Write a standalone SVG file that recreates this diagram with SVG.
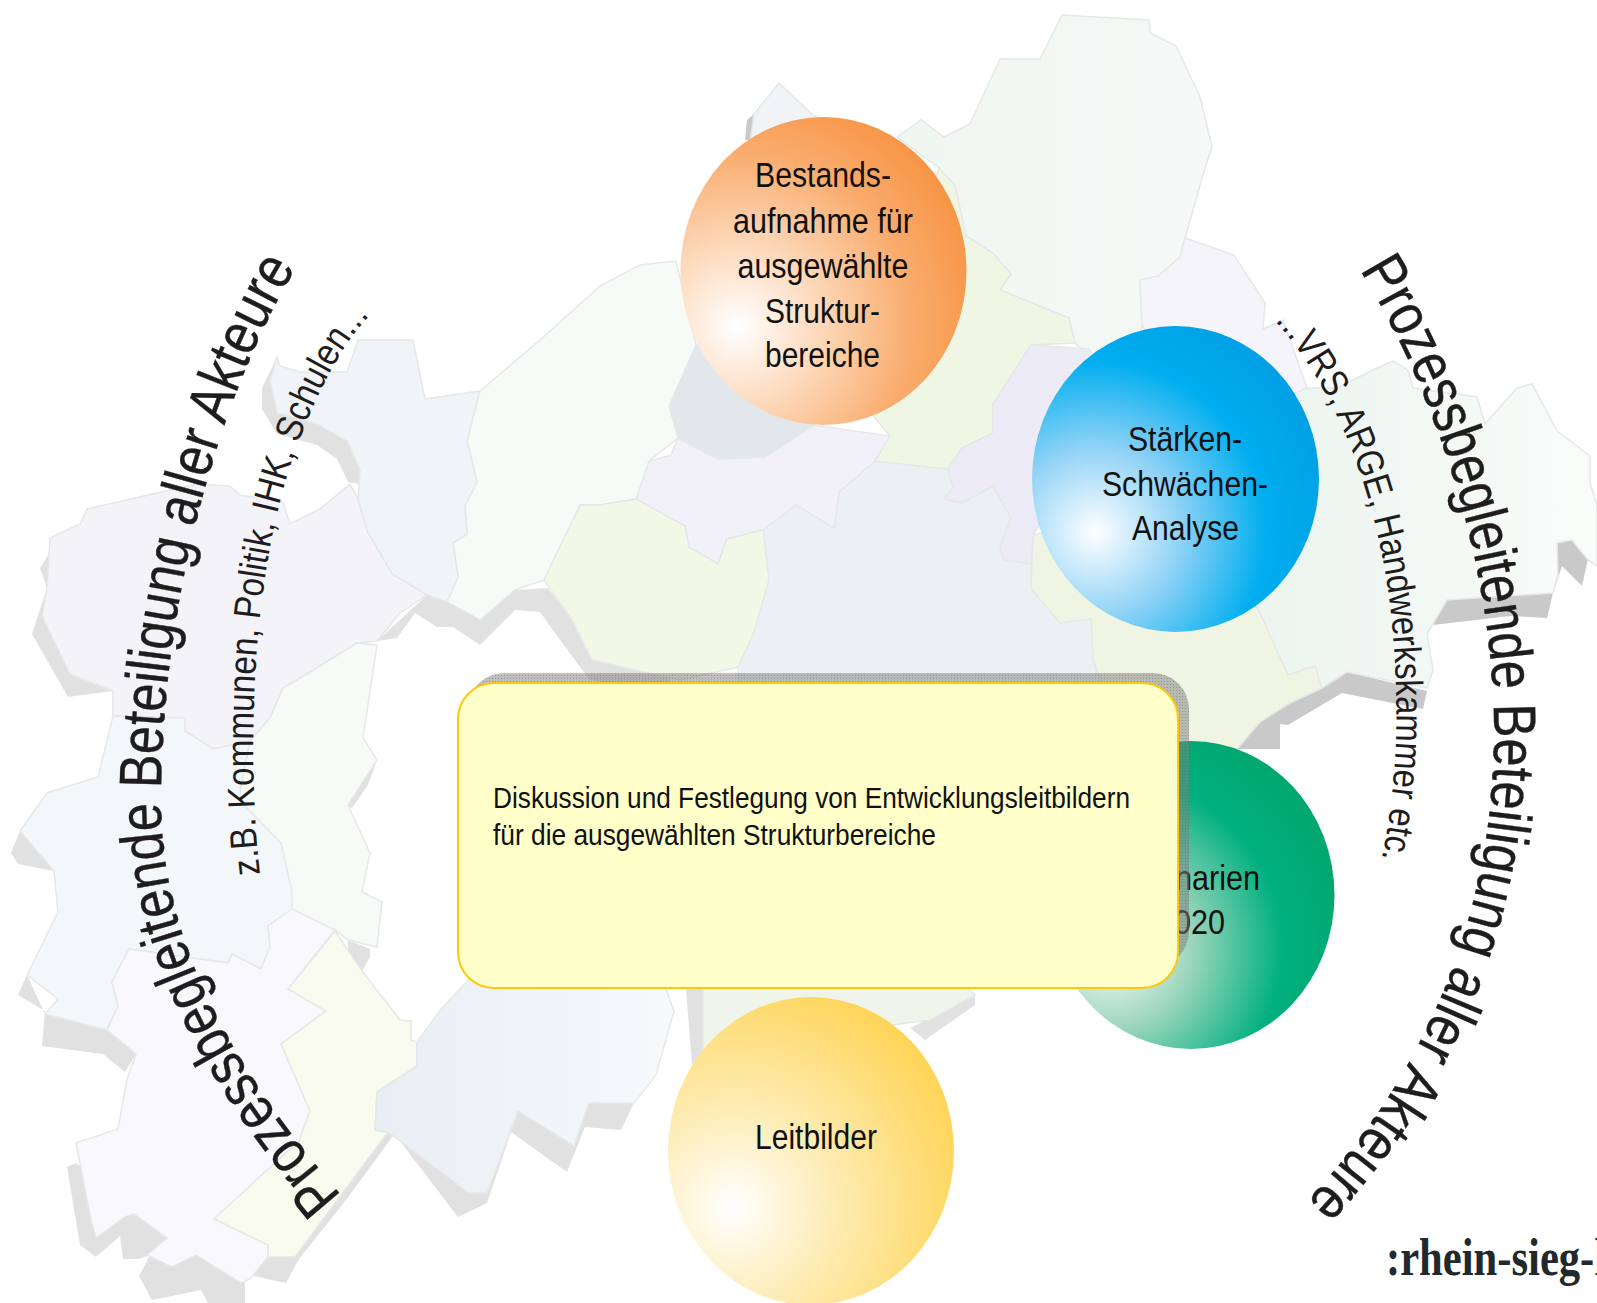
<svg xmlns="http://www.w3.org/2000/svg" width="1597" height="1303" viewBox="0 0 1597 1303">
<style>
.t{font-family:"Liberation Sans",Arial,sans-serif;fill:#111}
.c{font-size:35px}
.b{font-size:29px}
.o{font-size:60px;fill:#1e1c1c;stroke:#1e1c1c;stroke-width:.4}
.i{font-size:38px;fill:#1e1c1c}
.s{fill:#e1e1e1}
.d{fill:#c9c9c9}
.r{stroke:#e6e8e8;stroke-width:1.5}
</style>
<defs>
<radialGradient id="go" gradientUnits="userSpaceOnUse" cx="738" cy="326" r="270"><stop offset="0" stop-color="#fff"/><stop offset=".3" stop-color="#fdd9bb"/><stop offset=".65" stop-color="#f9ab6c"/><stop offset="1" stop-color="#f78e3a"/></radialGradient>
<radialGradient id="gb" gradientUnits="userSpaceOnUse" cx="1095" cy="532" r="285"><stop offset="0" stop-color="#fff"/><stop offset=".3" stop-color="#8fd2f6"/><stop offset=".6" stop-color="#00aeef"/><stop offset="1" stop-color="#0098dd"/></radialGradient>
<radialGradient id="gg" gradientUnits="userSpaceOnUse" cx="1111" cy="948" r="285"><stop offset="0" stop-color="#fff"/><stop offset=".28" stop-color="#9dd6bd"/><stop offset=".6" stop-color="#00b07f"/><stop offset="1" stop-color="#00a262"/></radialGradient>
<radialGradient id="gy" gradientUnits="userSpaceOnUse" cx="733" cy="1207" r="265"><stop offset="0" stop-color="#fff"/><stop offset=".4" stop-color="#fdebb0"/><stop offset="1" stop-color="#ffd048"/></radialGradient>
<linearGradient id="ge" x1="0" y1="0" x2="1" y2="0"><stop offset="0" stop-color="#e9f3ee"/><stop offset="1" stop-color="#fafcfa"/></linearGradient>
<linearGradient id="gs" x1="0" y1="0" x2="1" y2="0"><stop offset="0" stop-color="#e9eef4"/><stop offset="1" stop-color="#f7f9fb"/></linearGradient>
<linearGradient id="gn" x1="0" y1="0" x2="1" y2="0"><stop offset="0" stop-color="#f0f6f2"/><stop offset="1" stop-color="#f6f9f7"/></linearGradient>
<pattern id="hatch" width="3" height="3" patternUnits="userSpaceOnUse"><rect width="3" height="3" fill="#808080" fill-opacity=".5"/><rect width="1" height="1" fill="#5e5e5e" fill-opacity=".4"/></pattern>
<path id="pLO" d="M342 1196C230 1066 161 940 161 800C161 610 216 400 296 268"/>
<path id="pRO" d="M1360 270C1440 400 1494 570 1494 733C1494 920 1420 1080 1309 1199"/>
<path id="pLI" d="M260 874C248 770 248 590 293 458C313 400 340 345 373 312"/>
<path id="pRI" d="M1275 321C1332 385 1372 480 1388 590C1400 680 1400 770 1382 858"/>
</defs>
<rect width="1597" height="1303" fill="#fff"/>
<g id="map">
<g id="map-shadows">
<polygon class="d" points="1557,543 1572,540 1588,559 1582,586 1562,566 1553,593 1547,618 1510,616 1433,625 1427,636 1447,600"/>
<polygon class="d" points="1347,672 1427,691 1423,709 1342,693 1288,725 1280,724 1280,749 1237,749 1260,722 1287,704 1322,688"/>
<polygon class="s" points="277,357 262,388 262,409 277,434 317,445 337,459 348,482 360,484 360,470 347,441 317,424 277,413 270,381"/>
<polygon class="s" points="50,552 40,568 47,588 32,634 68,697 113,691 70,674 42,616 47,588"/>
<polygon class="s" points="427,595 377,641 397,638 415,613 437,627 453,627 480,645 515,610 540,612 560,640 590,680 672,692 670,675 592,660 572,620 548,588 515,590 480,620 447,602"/>
<polygon class="s" points="377,760 368,785 352,808 346,805 360,770"/>
<polygon class="s" points="348,940 370,949 370,957 362,971 348,964"/>
<polygon class="s" points="20,831 11,853 18,864 54,871 45,850"/>
<polygon class="s" points="27,975 18,995 45,1011 42,1046 103,1054 125,1072 136,1054 118,1040 107,1030 45,1014"/>
<polygon class="s" points="76,1163 67,1167 80,1245 96,1257 120,1236 123,1259 138,1259 150,1255 139,1276 152,1300 201,1290 208,1303 245,1303 245,1279 254,1276 286,1283 299,1259 346,1200 393,1136 388,1132 295,1257 200,1250"/>
<polygon class="s" points="393,1132 458,1217 487,1203 511,1132 567,1172 585,1127 621,1130 634,1103 656,1075 634,1077 600,1090 520,1100 470,1190 400,1130"/>
<polygon class="s" points="686,988 703,988 703,1060 692,1065"/>
<polygon class="s" points="910,1028 975,996 975,1005 925,1040"/>
<polygon class="d" points="747,120 756,112 752,140 745,140"/>
</g>
<g id="map-regions">
<polygon class="r" fill="url(#gn)" points="1062,15 1149,20 1150,33 1176,46 1200,97 1212,147 1205,168 1185,238 1180,257 1158,276 1140,280 1142,326 1120,400 1089,356 1075,343 1069,318 1000,290 1011,274 993,253 966,236 939,168 897,137 921,120 944,137 970,124 1000,59 1040,59"/>
<polygon class="r" fill="#f0f4f7" points="779,83 814,116 840,125 800,200 745,180 754,114"/>
<polygon class="r" fill="#f5f4fb" points="1185,238 1234,255 1265,303 1263,329 1283,320 1307,388 1297,395 1200,400 1142,326 1140,280 1158,276 1180,257"/>
<polygon class="r" fill="url(#ge)" points="1307,388 1337,388 1377,368 1393,361 1408,370 1413,388 1477,397 1485,424 1517,388 1532,384 1557,431 1590,456 1590,482 1597,506 1597,566 1587,559 1572,540 1557,543 1558,574 1553,593 1447,600 1427,634 1433,670 1427,688 1347,672 1322,688 1315,666 1288,675 1258,609 1200,500 1290,395"/>
<polygon class="r" fill="#f0f5e3" points="1033,535 1031,589 1060,623 1091,619 1093,660 1105,690 1180,760 1237,749 1260,722 1288,704 1322,688 1315,666 1288,675 1258,609 1150,500"/>
<polygon class="r" fill="#ecf0f5" points="875,461 948,469 953,488 944,499 962,503 993,486 1011,518 1000,547 1004,560 1031,564 1031,589 1060,623 1091,619 1093,660 1105,700 738,700 738,660 767,560 763,530 796,505 834,528 839,492"/>
<polygon class="r" fill="#f2f1f9" points="678,438 718,459 765,457 814,425 890,436 875,461 839,492 834,528 796,505 763,530 727,539 718,564 689,547 685,526 636,499 649,461 671,455"/>
<polygon class="r" fill="#f0f6e4" points="939,168 955,185 966,236 993,253 1011,274 1000,290 1069,318 1075,343 1031,345 1015,370 993,404 993,433 962,448 948,469 875,461 890,436 860,400"/>
<polygon class="r" fill="#edecf6" points="1031,345 1089,349 1120,400 1033,535 1031,564 1004,560 1000,547 1011,518 993,486 962,503 944,499 953,488 948,469 962,448 993,433 993,404 1015,370"/>
<polygon class="r" fill="#e1e7eb" points="696,345 669,406 678,438 718,459 765,457 814,425 750,340"/>
<polygon class="r" fill="#f7fbf8" points="479,392 540,340 600,286 640,265 676,261 696,345 669,406 678,438 649,461 636,499 600,505 580,505 544,580 515,590 480,620 447,602 458,577 453,543 467,534 465,506 477,482 467,441"/>
<polygon class="r" fill="#f3f8e6" points="544,580 580,505 600,505 636,499 685,526 689,547 718,564 727,539 763,530 769,580 754,632 738,667 680,680 592,660 572,620"/>
<polygon class="r" fill="#f0f3f7" points="358,340 413,340 425,399 480,391 467,441 477,482 465,506 467,534 453,543 458,577 447,602 427,595 392,574 367,531 358,499 360,470 347,441 317,424 277,413 270,381 277,357 280,366 300,372 347,372"/>
<polygon class="r" fill="#f3f3f8" points="50,538 80,524 87,509 197,484 230,486 240,495 283,502 290,524 320,509 350,484 358,499 367,531 392,574 427,595 400,613 377,641 357,643 307,674 283,688 270,718 250,741 213,749 185,731 185,718 113,716 113,691 70,674 42,616 47,588"/>
<polygon class="r" fill="#f8faf8" points="357,643 307,674 283,688 270,718 250,741 240,790 241,802 281,843 292,909 335,930 348,940 377,947 382,902 362,892 370,853 348,805 377,760 363,738 377,645"/>
<polygon class="r" fill="#f4f7fa" points="113,716 185,718 185,731 213,749 250,741 240,790 241,802 281,843 292,891 292,909 268,926 270,947 261,969 232,954 228,963 129,949 112,982 118,1006 107,1030 45,1014 58,999 27,975 58,912 54,871 20,831 47,793 98,777"/>
<polygon class="r" fill="#f8f8fd" points="129,949 228,963 232,954 261,969 270,947 268,926 292,909 335,930 288,989 326,1011 281,1044 310,1111 299,1141 214,1219 268,1245 268,1257 250,1279 241,1283 196,1255 172,1267 147,1255 167,1238 134,1214 125,1217 96,1238 91,1220 76,1143 118,1129 127,1079 136,1054 107,1030 118,1006 112,982"/>
<polygon class="r" fill="#f8fbee" points="335,931 362,971 400,1020 411,1021 411,1040 417,1042 417,1066 377,1092 375,1130 388,1132 295,1257 268,1257 268,1245 214,1219 299,1141 310,1111 281,1044 326,1011 288,989"/>
<polygon class="r" fill="url(#gs)" points="442,1008 473,975 661,975 674,1011 656,1075 634,1103 589,1103 574,1146 518,1111 487,1193 469,1193 388,1132 375,1130 377,1092 417,1066 417,1042"/>
<polygon class="r" fill="#f0f5ec" points="703,980 703,1050 930,1020 975,995 960,980"/>
</g>
</g>
<g id="node-bestandsaufnahme">
<ellipse cx="823.5" cy="271" rx="143" ry="154" fill="url(#go)"/>
<text class="t c" x="755" y="187" textLength="136" lengthAdjust="spacingAndGlyphs">Bestands-</text>
<text class="t c" x="733" y="233" textLength="180" lengthAdjust="spacingAndGlyphs">aufnahme für</text>
<text class="t c" x="737.5" y="278" textLength="171" lengthAdjust="spacingAndGlyphs">ausgewählte</text>
<text class="t c" x="765" y="323" textLength="115" lengthAdjust="spacingAndGlyphs">Struktur-</text>
<text class="t c" x="765" y="367" textLength="115" lengthAdjust="spacingAndGlyphs">bereiche</text>
</g>
<g id="node-staerken">
<ellipse cx="1175.5" cy="479" rx="143.5" ry="153" fill="url(#gb)"/>
<text class="t c" x="1128" y="451" textLength="114" lengthAdjust="spacingAndGlyphs">Stärken-</text>
<text class="t c" x="1102" y="496" textLength="166" lengthAdjust="spacingAndGlyphs">Schwächen-</text>
<text class="t c" x="1132" y="540" textLength="107" lengthAdjust="spacingAndGlyphs">Analyse</text>
</g>
<g id="node-szenarien">
<ellipse cx="1191" cy="895" rx="143.5" ry="154" fill="url(#gg)"/>
<text class="t c" x="1175" y="890" textLength="85" lengthAdjust="spacingAndGlyphs">narien</text>
<text class="t c" x="1174" y="934" textLength="51" lengthAdjust="spacingAndGlyphs">020</text>
</g>
<g id="node-leitbilder">
<ellipse cx="811" cy="1151" rx="143" ry="154" fill="url(#gy)"/>
<text class="t c" x="755" y="1149" textLength="122" lengthAdjust="spacingAndGlyphs">Leitbilder</text>
</g>
<g id="node-diskussion">
<rect x="468" y="673" width="721" height="294" rx="36" fill="url(#hatch)"/>
<rect x="458" y="683" width="720" height="305" rx="36" fill="#ffffc9" stroke="#fdc90d" stroke-width="2"/>
<text class="t b" x="493" y="808" textLength="637" lengthAdjust="spacingAndGlyphs">Diskussion und Festlegung von Entwicklungsleitbildern</text>
<text class="t b" x="493" y="845" textLength="443" lengthAdjust="spacingAndGlyphs">für die ausgewählten Strukturbereiche</text>
</g>
<g id="arc-labels">
<text class="t o"><textPath href="#pLO" textLength="1000" lengthAdjust="spacingAndGlyphs">Prozessbegleitende Beteiligung aller Akteure</textPath></text>
<text class="t o"><textPath href="#pRO" textLength="1005" lengthAdjust="spacingAndGlyphs">Prozessbegleitende Beteiligung aller Akteure</textPath></text>
<text class="t i"><textPath href="#pLI" textLength="583" lengthAdjust="spacingAndGlyphs">z.B. Kommunen, Politik, IHK, Schulen...</textPath></text>
<text class="t i"><textPath href="#pRI" textLength="566" lengthAdjust="spacingAndGlyphs">...VRS, ARGE, Handwerkskammer etc.</textPath></text>
</g>
<text id="logo" x="1386" y="1275" font-family="'Liberation Serif',serif" font-weight="700" font-size="52" fill="#22292c" textLength="232" lengthAdjust="spacingAndGlyphs">:rhein-sieg-k</text>
</svg>
